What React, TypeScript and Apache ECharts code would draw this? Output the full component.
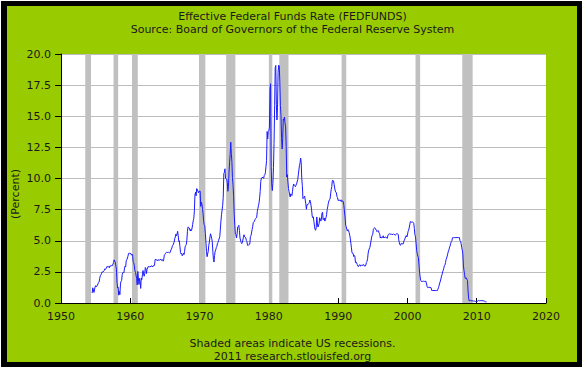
import React, { useEffect, useRef } from "react";
import * as echarts from "echarts";

const titleLines = ["Effective Federal Funds Rate (FEDFUNDS)", "Source: Board of Governors of the Federal Reserve System"];
const footerLines = ["Shaded areas indicate US recessions.", "2011 research.stlouisfed.org"];
const yAxisName = "(Percent)";

// NBER recessions [start, end] as "YYYY-MM"
const recessions: [string, string][] = [
  ["1953-07", "1954-05"],
  ["1957-08", "1958-04"],
  ["1960-04", "1961-02"],
  ["1969-12", "1970-11"],
  ["1973-11", "1975-03"],
  ["1980-01", "1980-07"],
  ["1981-07", "1982-11"],
  ["1990-07", "1991-03"],
  ["2001-03", "2001-11"],
  ["2007-12", "2009-06"],
];

const seriesStart = "1954-07";
// monthly effective federal funds rate, percent
const fedFunds: number[] = [
  0.80, 1.22, 1.06, 0.85, 0.83, 1.28,
  1.39, 1.29, 1.35, 1.43, 1.43, 1.64, 1.68, 1.96, 2.18, 2.24, 2.35, 2.48,
  2.45, 2.50, 2.50, 2.62, 2.75, 2.71, 2.75, 2.73, 2.95, 2.96, 2.88, 2.94,
  2.84, 3.00, 2.96, 3.00, 3.00, 3.00, 2.99, 3.24, 3.47, 3.50, 3.28, 2.98,
  2.72, 1.67, 1.20, 1.26, 0.63, 0.93, 0.68, 1.53, 1.76, 1.80, 2.27, 2.42,
  2.48, 2.43, 2.80, 2.96, 2.90, 3.39, 3.47, 3.50, 3.76, 3.98, 4.00, 3.99,
  3.99, 3.97, 3.84, 3.92, 3.85, 3.32, 3.23, 2.98, 2.60, 2.47, 2.44, 1.98,
  1.45, 2.54, 2.02, 1.49, 1.98, 1.73, 1.17, 2.00, 1.88, 2.26, 2.61, 2.33,
  2.15, 2.37, 2.85, 2.78, 2.36, 2.68, 2.71, 2.93, 2.90, 2.90, 2.94, 2.93,
  2.92, 3.00, 2.98, 2.90, 3.00, 2.99, 3.02, 3.49, 3.48, 3.50, 3.48, 3.38,
  3.48, 3.48, 3.43, 3.47, 3.50, 3.50, 3.42, 3.50, 3.45, 3.36, 3.52, 3.85,
  3.90, 3.98, 4.04, 4.09, 4.10, 4.04, 4.09, 4.12, 4.01, 4.08, 4.10, 4.32,
  4.42, 4.60, 4.65, 4.67, 4.90, 5.17, 5.30, 5.53, 5.40, 5.53, 5.76, 5.40,
  4.94, 5.00, 4.53, 4.05, 3.94, 3.98, 3.79, 3.90, 3.99, 3.88, 4.13, 4.51,
  4.61, 4.71, 5.05, 5.76, 6.11, 6.07, 6.03, 6.03, 5.78, 5.91, 5.82, 6.02,
  6.30, 6.61, 6.79, 7.41, 8.67, 8.90, 8.61, 9.19, 9.15, 9.00, 8.85, 8.97,
  8.98, 8.98, 7.76, 8.10, 7.95, 7.61, 7.21, 6.61, 6.29, 6.20, 5.60, 4.90,
  4.14, 3.72, 3.71, 4.16, 4.63, 4.91, 5.31, 5.56, 5.55, 5.20, 4.91, 4.14,
  3.50, 3.29, 3.83, 4.17, 4.27, 4.46, 4.55, 4.80, 4.87, 5.04, 5.06, 5.33,
  5.94, 6.58, 7.09, 7.12, 7.84, 8.49, 10.40, 10.50, 10.78, 10.01, 10.03, 9.95,
  9.65, 8.97, 9.35, 10.51, 11.31, 11.93, 12.92, 12.01, 11.34, 10.06, 9.45, 8.53,
  7.13, 6.24, 5.54, 5.49, 5.22, 5.55, 6.10, 6.14, 6.24, 5.82, 5.22, 5.20,
  4.87, 4.77, 4.84, 4.82, 5.29, 5.48, 5.31, 5.29, 5.25, 5.02, 4.95, 4.65,
  4.61, 4.68, 4.69, 4.73, 5.35, 5.39, 5.42, 5.90, 6.14, 6.47, 6.51, 6.56,
  6.70, 6.78, 6.79, 6.89, 7.36, 7.60, 7.81, 8.04, 8.45, 8.96, 9.76, 10.03,
  10.07, 10.06, 10.09, 10.01, 10.24, 10.29, 10.47, 10.94, 11.43, 13.77, 13.18, 13.78,
  13.82, 14.13, 17.19, 17.61, 10.98, 9.47, 9.03, 9.61, 10.87, 12.81, 15.85, 18.90,
  19.08, 15.93, 14.70, 15.72, 18.52, 19.10, 19.04, 17.82, 15.87, 15.08, 13.31, 12.37,
  13.22, 14.78, 14.68, 14.94, 14.45, 14.15, 12.59, 10.12, 10.31, 9.71, 9.20, 8.95,
  8.68, 8.51, 8.77, 8.80, 8.63, 8.98, 9.37, 9.56, 9.45, 9.48, 9.34, 9.47,
  9.56, 9.59, 9.91, 10.29, 10.32, 11.06, 11.23, 11.64, 11.30, 9.99, 9.43, 8.38,
  8.35, 8.50, 8.58, 8.27, 7.97, 7.53, 7.88, 7.90, 7.92, 7.99, 8.05, 8.27,
  8.14, 7.86, 7.48, 6.99, 6.85, 6.92, 6.56, 6.17, 5.89, 5.85, 6.04, 6.91,
  6.43, 6.10, 6.13, 6.37, 6.85, 6.73, 6.58, 6.73, 7.22, 7.29, 6.69, 6.77,
  6.83, 6.58, 6.58, 6.87, 7.09, 7.51, 7.75, 8.01, 8.19, 8.30, 8.35, 8.76,
  9.12, 9.36, 9.85, 9.84, 9.81, 9.53, 9.24, 8.99, 9.02, 8.84, 8.55, 8.45,
  8.23, 8.24, 8.28, 8.26, 8.18, 8.29, 8.15, 8.13, 8.20, 8.11, 7.81, 7.31,
  6.91, 6.25, 6.12, 5.91, 5.78, 5.90, 5.82, 5.66, 5.45, 5.21, 4.81, 4.43,
  4.03, 4.06, 3.98, 3.73, 3.82, 3.76, 3.25, 3.30, 3.22, 3.10, 3.09, 2.92,
  3.02, 3.03, 3.07, 2.96, 3.00, 3.04, 3.06, 3.03, 3.09, 2.99, 3.02, 2.96,
  3.05, 3.25, 3.34, 3.56, 4.01, 4.25, 4.26, 4.47, 4.73, 4.76, 5.29, 5.45,
  5.53, 5.92, 5.98, 6.05, 6.01, 6.00, 5.85, 5.74, 5.80, 5.76, 5.80, 5.60,
  5.56, 5.22, 5.31, 5.22, 5.24, 5.27, 5.40, 5.22, 5.30, 5.24, 5.31, 5.29,
  5.25, 5.19, 5.39, 5.51, 5.50, 5.56, 5.52, 5.54, 5.54, 5.50, 5.52, 5.50,
  5.56, 5.51, 5.49, 5.45, 5.49, 5.56, 5.54, 5.55, 5.51, 5.07, 4.83, 4.68,
  4.63, 4.76, 4.81, 4.74, 4.74, 4.76, 4.99, 5.07, 5.22, 5.20, 5.42, 5.30,
  5.45, 5.73, 5.85, 6.02, 6.27, 6.53, 6.54, 6.50, 6.52, 6.51, 6.51, 6.40,
  5.98, 5.49, 5.31, 4.80, 4.21, 3.97, 3.77, 3.65, 3.07, 2.49, 2.09, 1.82,
  1.73, 1.74, 1.73, 1.75, 1.75, 1.75, 1.73, 1.74, 1.75, 1.75, 1.34, 1.24,
  1.24, 1.26, 1.25, 1.26, 1.26, 1.22, 1.01, 1.03, 1.01, 1.01, 1.00, 0.98,
  1.00, 1.01, 1.00, 1.00, 1.00, 1.03, 1.26, 1.43, 1.61, 1.76, 1.93, 2.16,
  2.28, 2.50, 2.63, 2.79, 3.00, 3.04, 3.26, 3.50, 3.62, 3.78, 4.00, 4.16,
  4.29, 4.49, 4.59, 4.79, 4.94, 4.99, 5.24, 5.25, 5.25, 5.25, 5.25, 5.24,
  5.25, 5.26, 5.26, 5.25, 5.25, 5.25, 5.26, 5.02, 4.94, 4.76, 4.49, 4.24,
  3.94, 2.98, 2.61, 2.28, 1.98, 2.00, 2.01, 2.00, 1.81, 0.97, 0.39, 0.16,
  0.15, 0.22, 0.18, 0.15, 0.18, 0.21, 0.16, 0.16, 0.15, 0.12, 0.12, 0.12,
  0.11, 0.13, 0.16, 0.20, 0.20, 0.18, 0.18, 0.19, 0.19, 0.19, 0.19, 0.18,
  0.17, 0.16, 0.14, 0.10, 0.09, 0.09, 0.07,
];

const xTicks = { min: 1950, max: 2020, step: 10 };
const yTicks = { min: 0, max: 20, step: 2.5 };

const toYear = (ym: string) => {
  const [y, m] = ym.split("-").map(Number);
  return y + (m - 1) / 12;
};

const FONT = "DejaVu Sans";
const TEXT = "#1a1a1a";

export default function App() {
  const ref = useRef<HTMLDivElement>(null);
  useEffect(() => {
    if (!ref.current) return;
    const chart = echarts.init(ref.current, undefined, { renderer: "svg" });
    const start = toYear(seriesStart);
    const lineData = fedFunds.map((v, i) => [start + i / 12, v]);
    const recData = recessions.map(([s, e]) => [toYear(s), toYear(e), yTicks.min, yTicks.max]);
    chart.setOption({
      animation: false,
      backgroundColor: "#ffffff",
      graphic: [
        { type: "rect", z: -10, silent: true, shape: { x: 1, y: 1, width: 581, height: 366 }, style: { fill: "#000000" } },
        { type: "rect", z: -9, silent: true, shape: { x: 7, y: 6, width: 570, height: 356 }, style: { fill: "#99CC00" } },
        { type: "text", left: "center", top: 10, style: { text: titleLines.join("\n"), font: `11px ${FONT}`, fill: TEXT, textAlign: "center", lineHeight: 13 } },
        { type: "text", left: "center", top: 337, style: { text: footerLines.join("\n"), font: `11px ${FONT}`, fill: TEXT, textAlign: "center", lineHeight: 13 } },
        { type: "text", x: 15, y: 194, rotation: Math.PI / 2, style: { text: yAxisName, font: `11px ${FONT}`, fill: TEXT, textAlign: "center", textVerticalAlign: "middle" } },
      ],
      grid: { left: 61, right: 39, top: 54, bottom: 68, show: true, backgroundColor: "#ffffff", borderWidth: 0 },
      xAxis: {
        type: "value",
        min: xTicks.min,
        max: xTicks.max,
        interval: xTicks.step,
        axisLine: { show: true, lineStyle: { color: "#000", width: 1 } },
        axisTick: { show: true, inside: true, length: 5, lineStyle: { color: "#000" } },
        axisLabel: { color: TEXT, fontFamily: FONT, fontSize: 11, margin: 8, formatter: (v: number) => String(v) },
        splitLine: { show: false },
      },
      yAxis: {
        type: "value",
        min: yTicks.min,
        max: yTicks.max,
        interval: yTicks.step,
        axisLine: { show: true, lineStyle: { color: "#000", width: 1 } },
        axisTick: { show: true, length: 6, lineStyle: { color: "#000" } },
        axisLabel: { color: TEXT, fontFamily: FONT, fontSize: 11, margin: 10, formatter: (v: number) => v.toFixed(1) },
        splitLine: { show: true, lineStyle: { color: "#BDBDBD", width: 1 } },
      },
      series: [
        {
          type: "custom",
          z: 1,
          silent: true,
          data: recData,
          encode: { x: [0, 1], y: [2, 3] },
          renderItem: (_p: any, api: any) => {
            const a = api.coord([api.value(0), api.value(3)]);
            const b = api.coord([api.value(1), api.value(2)]);
            return { type: "rect", shape: { x: a[0], y: a[1], width: b[0] - a[0], height: b[1] - a[1] }, style: { fill: "#C0C0C0" } };
          },
        },
        {
          type: "line",
          z: 3,
          data: lineData,
          showSymbol: false,
          symbol: "none",
          lineStyle: { color: "#1a1aff", width: 1 },
        },
      ],
    });
    return () => chart.dispose();
  }, []);
  return <div ref={ref} style={{ position: "fixed", left: 0, top: 0, width: 585, height: 371 }} />;
}
